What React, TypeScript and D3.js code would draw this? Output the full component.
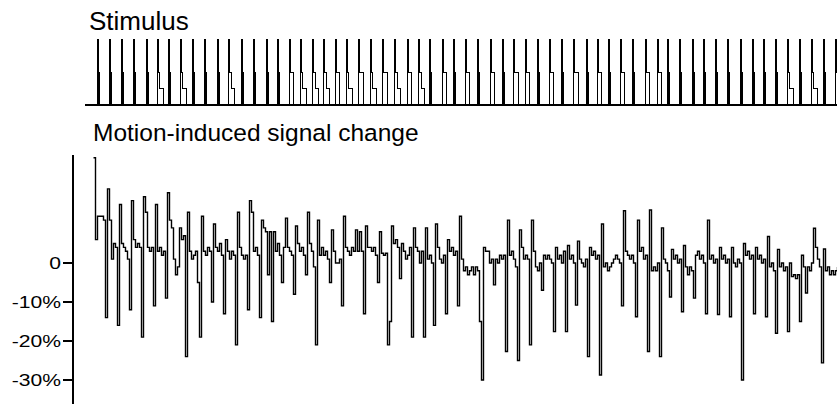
import React from "react";
import * as d3 from "d3";

// percent signal change, one value per scan
const signal = [
  27, 6, 12, 12, 12, 11, -14, 19, 11, 1, 5, 4,
  -16, 15, 5, 4, 3, 1, -12, 16, 6, 4, 5, 4,
  -19, 17, 13, 4, 3, 4, -11, 15, 3, 4, 2, 3,
  -9, 18, 11, 9, 1, -3, -1, 9, 6, 7, -24, 13,
  3, 1, 2, 3, -5, -19, 12, 3, 2, 4, 3, -10,
  10, 4, 3, 5, 2, -13, 6, 3, 1, 3, 2, -21,
  13, 4, 2, 1, 2, -12, 16, 13, 3, 4, 2, -14,
  11, 9, 8, -3, 8, -15, 8, 3,
  5, 2, -5, 4, 11.5, 4, 3, 2, -8, 9.5, 5, 3,
  4, 2, -3, 13, 5, 3, -1, -21, 11, 2, 4, 2,
  3, 1, -5, 8.5, 3, 0, 0, 1, -11, 12, 4, 3,
  2, 4, 3, 8.5, 3, 8, 3, -13, 9.5, 4, 4, 3,
  4, 2, -5, 8, 2.5, 2, 2.5, -21, -15, 9.5, 5, 6,
  4, -4, 5, 3, 1, 2, 4, -19, 9, 4, 3, 0,
  3, -19, 9, 1, 2, 0, -16, 10, 4, 1, 0, 2,
  -13, 6, 3, 4, 2, 3, -11, 12,
  1, -2, -1, -3, -2, -1, -3, -1, -2, -15, -30, 4,
  3, 3, 0, 1, -5.6, 1, 0, 2, 1, 2, -22.7, 11,
  2, 3, 1, -1, -25, 8.5, 4, 1, 2, 1, -21, 11,
  3, -1, -2, 0, -7, 2, 1, 2, 1, 0, -17.6, 4,
  1, 2, 0, 3, -17.6, 4.5, 1, 2, 0, -10.8, 5.6, 1,
  0, -1, 1, -24, 4, 2, 3, 1, 2, -28.7, 10, -1,
  0, -2, -1, 0, 1, 2, 1, 0, -11, 13.4, 3, 2,
  1, 2, 0, -13.8, 11, 3, 4, 1,
  2, -22.7, 13.6, -2, -1, -2, 0, -24, 9, 1, 0, -2,
  -8.7, 3.5, 1, 2, 0, 1, -12.5, 4.5, -1, -3, -1, -2,
  -9, 2, 3, 1, 2, 0, -13, 11, 1, 2, 0, 1,
  -13.2, 4, 1, 2, 0, 1, -13.8, 4, 0, -1, 1, 0,
  -30, 5, 2, 3, 1, 2, -13, 4, 1, 2, 0, 1,
  -13.8, 6.8, -1, 0, -2, -18, 3.5, -1, 0, -2, -1, -17.6,
  0, -3.5, -3, -4, -3, -15, 2, -1, -7.7, -1, -2, 0,
  8.9, 4, 1, -1, -25.6, 3.6, -2, -1, -3, -2, -3, -2, -1,
];

// stimulus onsets (in scans) and the pulse shape used at each onset
const stimOnsets = [
  1.9, 8, 13.9, 20.2, 26.4, 31.9, 37.7, 43.5, 49.7, 55.7, 61.9, 67.7, 73.9, 80.2,
  86.4, 92.2, 98, 103.5, 109.7, 115.2, 121, 126.5, 132.7, 138.5, 144.7, 150.7,
  156.9, 162.7, 168, 174.4, 180.2, 186, 192.2, 198.5, 204.7, 210.2, 216, 221.9,
  228, 233.9, 240.2, 246.4, 251.9, 257.5, 263.4, 269.5, 276, 281.9, 287.2, 293,
  299.4, 305.2, 311, 317.2, 323.5, 329.4, 335.2, 341, 346.9, 353, 358.9, 365.2, 371,
];
const stimKinds = [
  "a", "a", "a", "a", "a", "b", "a", "b", "a", "a", "a", "b", "a", "a", "a", "a",
  "m", "b", "b", "b", "m",
  "b", "m", "b", "m", "b", "m", "b", "a", "m", "a", "m", "a", "m", "a", "m", "m",
  "a", "m", "a", "m", "a",
  "m", "a", "m", "a", "m", "m", "a", "a", "a", "a", "a", "a", "a", "a", "a", "a",
  "b", "a", "b", "a", "b",
];

// pulse profiles: [level, duration in scans]
const profiles: Record<string, [number, number][]> = {
  a: [[1, 0.4], [0.5, 0.6]],
  m: [[1, 0.4], [0.5, 1.8]],
  b: [[1, 0.4], [0.5, 0.8], [0.25, 1.8]],
};

const yTicks = [0, -10, -20, -30];
const yTickLabels = ["0", "-10%", "-20%", "-30%"];

export default function App() {
  const width = 837;
  const height = 404;
  const font = "'Liberation Sans', Arial, Helvetica, sans-serif";

  const x = d3.scaleLinear().domain([0, signal.length - 1]).range([93.5, 837.5]);
  const y = d3.scaleLinear().domain([-30, 0]).range([380, 263]);
  const ys = d3.scaleLinear().domain([0, 1]).range([104.5, 40]);

  const sigLine = d3
    .line<number>()
    .x((_, i) => x(i))
    .y((d) => y(d))
    .curve(d3.curveStepAfter);

  const stimLine = d3
    .line<[number, number]>()
    .x((d) => x(d[0]))
    .y((d) => ys(d[1]));

  const pulses = stimOnsets.map((t0, k) => {
    const kind = stimKinds[k] || "a";
    const prof = profiles[kind];
    const pts: [number, number][] = [[t0, 0]];
    let t = t0;
    prof.forEach(([lv, dur]) => {
      pts.push([t, lv]);
      t += dur;
      pts.push([t, lv]);
    });
    pts.push([t, 0]);
    return { d: stimLine(pts) || "", kind };
  });

  const axisX = 73;

  return (
    <svg
      width={width}
      height={height}
      style={{ position: "absolute", left: 0, top: 0, background: "#fff" }}
      fontFamily={font}
    >
      <rect width={width} height={height} fill="#fff" />
      <text x={89} y={30} fontSize={26} fill="#000">
        Stimulus
      </text>
      <g shapeRendering="crispEdges">
        {pulses.map((p, i) => (
          <path
            key={i}
            d={p.d}
            fill={p.kind === "a" ? "#000" : "none"}
            stroke="#000"
            strokeWidth={1.1}
          />
        ))}
        <line x1={x(-4.5)} x2={width} y1={ys(0)} y2={ys(0)} stroke="#000" strokeWidth={2} />
      </g>

      <text x={93} y={141} fontSize={24.5} fill="#000">
        Motion-induced signal change
      </text>

      <g shapeRendering="crispEdges">
        <line x1={axisX} x2={axisX} y1={y(27.7)} y2={height} stroke="#000" strokeWidth={1.2} />
        {yTicks.map((v) => (
          <line key={v} x1={axisX - 10} x2={axisX} y1={y(v)} y2={y(v)} stroke="#000" strokeWidth={1.2} />
        ))}
      </g>
      {yTicks.map((v, i) => (
        <text
          key={v}
          transform={`translate(61,${y(v)}) scale(1.28,1)`}
          textAnchor="end"
          dominantBaseline="central"
          fontSize={16.5}
          fill="#000"
        >
          {yTickLabels[i]}
        </text>
      ))}

      <path d={sigLine(signal) || ""} fill="none" stroke="#000" strokeWidth={1.4} />
    </svg>
  );
}
